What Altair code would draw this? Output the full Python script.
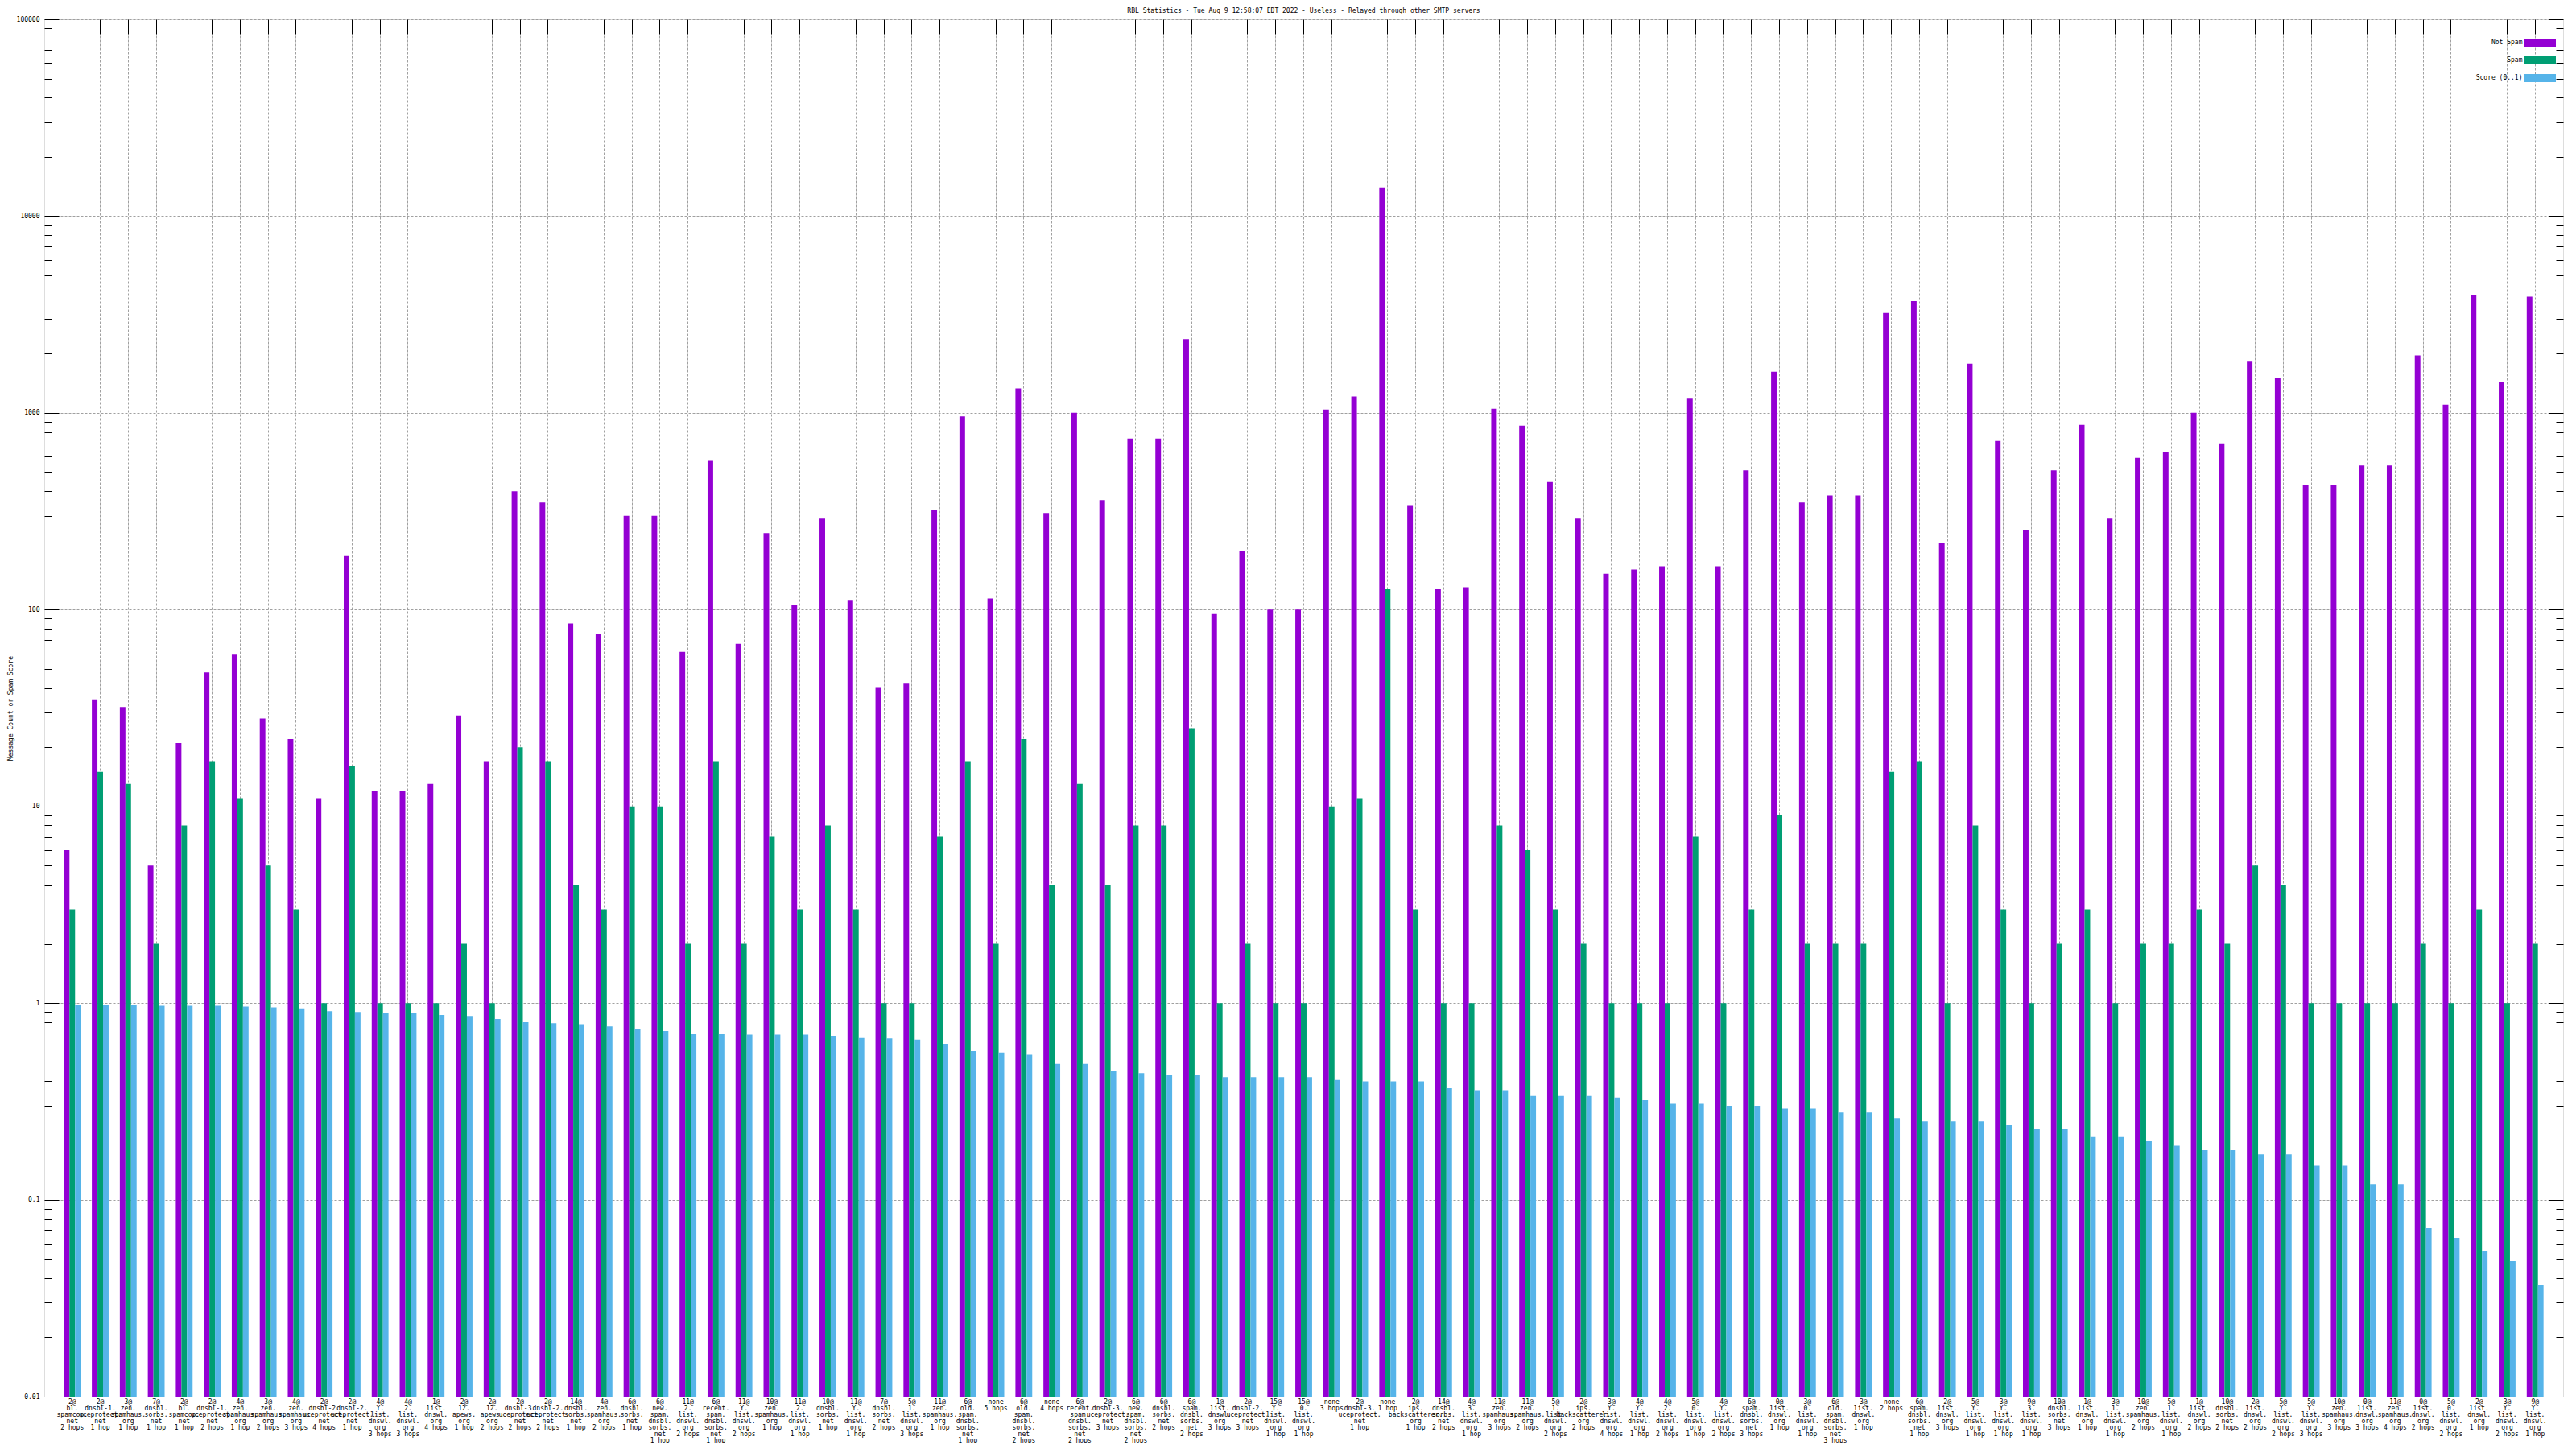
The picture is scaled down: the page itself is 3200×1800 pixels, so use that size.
import altair as alt
import pandas as pd

labels = [
    "2@|bl.|spamcop.|net|2 hops", "2@|dnsbl-1.|uceprotect.|net|1 hop", "3@|zen.|spamhaus.|org|1 hop",
    "7@|dnsbl.|sorbs.|net|1 hop", "2@|bl.|spamcop.|net|1 hop", "2@|dnsbl-1.|uceprotect.|net|2 hops",
    "4@|zen.|spamhaus.|org|1 hop", "3@|zen.|spamhaus.|org|2 hops", "4@|zen.|spamhaus.|org|3 hops",
    "2@|dnsbl-2.|uceprotect.|net|4 hops", "2@|dnsbl-2.|uceprotect.|net|1 hop", "4@|Y.|list.|dnswl.|org|3 hops",
    "4@|2.|list.|dnswl.|org|3 hops", "1@|list.|dnswl.|org|4 hops", "2@|12.|apews.|org|1 hop",
    "2@|12.|apews.|org|2 hops", "2@|dnsbl-3.|uceprotect.|net|2 hops", "2@|dnsbl-2.|uceprotect.|net|2 hops",
    "14@|dnsbl.|sorbs.|net|1 hop", "4@|zen.|spamhaus.|org|2 hops", "6@|dnsbl.|sorbs.|net|1 hop",
    "6@|new.|spam.|dnsbl.|sorbs.|net|1 hop", "11@|2.|list.|dnswl.|org|2 hops",
    "6@|recent.|spam.|dnsbl.|sorbs.|net|1 hop", "11@|Y.|list.|dnswl.|org|2 hops", "10@|zen.|spamhaus.|org|1 hop",
    "11@|2.|list.|dnswl.|org|1 hop", "10@|dnsbl.|sorbs.|net|1 hop", "11@|Y.|list.|dnswl.|org|1 hop",
    "7@|dnsbl.|sorbs.|net|2 hops", "5@|1.|list.|dnswl.|org|3 hops", "11@|zen.|spamhaus.|org|1 hop",
    "6@|old.|spam.|dnsbl.|sorbs.|net|1 hop", "none|5 hops", "6@|old.|spam.|dnsbl.|sorbs.|net|2 hops",
    "none|4 hops", "6@|recent.|spam.|dnsbl.|sorbs.|net|2 hops", "2@|dnsbl-3.|uceprotect.|net|3 hops",
    "6@|new.|spam.|dnsbl.|sorbs.|net|2 hops", "6@|dnsbl.|sorbs.|net|2 hops", "6@|spam.|dnsbl.|sorbs.|net|2 hops",
    "1@|list.|dnswl.|org|3 hops", "2@|dnsbl-2.|uceprotect.|net|3 hops", "15@|Y.|list.|dnswl.|org|1 hop",
    "15@|0.|list.|dnswl.|org|1 hop", "none|3 hops", "2@|dnsbl-3.|uceprotect.|net|1 hop",
    "none|1 hop", "2@|ips.|backscatterer.|org|1 hop", "14@|dnsbl.|sorbs.|net|2 hops",
    "4@|3.|list.|dnswl.|org|1 hop", "11@|zen.|spamhaus.|org|3 hops", "11@|zen.|spamhaus.|org|2 hops",
    "5@|1.|list.|dnswl.|org|2 hops", "2@|ips.|backscatterer.|org|2 hops", "3@|Y.|list.|dnswl.|org|4 hops",
    "4@|Y.|list.|dnswl.|org|1 hop", "4@|2.|list.|dnswl.|org|2 hops", "5@|0.|list.|dnswl.|org|1 hop",
    "4@|Y.|list.|dnswl.|org|2 hops", "6@|spam.|dnsbl.|sorbs.|net|3 hops", "0@|list.|dnswl.|org|1 hop",
    "3@|0.|list.|dnswl.|org|1 hop", "6@|old.|spam.|dnsbl.|sorbs.|net|3 hops", "3@|list.|dnswl.|org|1 hop",
    "none|2 hops", "6@|spam.|dnsbl.|sorbs.|net|1 hop", "2@|list.|dnswl.|org|3 hops",
    "5@|Y.|list.|dnswl.|org|1 hop", "3@|Y.|list.|dnswl.|org|1 hop", "9@|3.|list.|dnswl.|org|1 hop",
    "10@|dnsbl.|sorbs.|net|3 hops", "1@|list.|dnswl.|org|1 hop", "3@|1.|list.|dnswl.|org|1 hop",
    "10@|zen.|spamhaus.|org|2 hops", "5@|1.|list.|dnswl.|org|1 hop", "1@|list.|dnswl.|org|2 hops",
    "10@|dnsbl.|sorbs.|net|2 hops", "2@|list.|dnswl.|org|2 hops", "5@|Y.|list.|dnswl.|org|2 hops",
    "5@|Y.|list.|dnswl.|org|3 hops", "10@|zen.|spamhaus.|org|3 hops", "0@|list.|dnswl.|org|3 hops",
    "11@|zen.|spamhaus.|org|4 hops", "0@|list.|dnswl.|org|2 hops", "5@|0.|list.|dnswl.|org|2 hops",
    "2@|list.|dnswl.|org|1 hop", "3@|Y.|list.|dnswl.|org|2 hops", "9@|Y.|list.|dnswl.|org|1 hop",
]

not_spam = [6, 35, 32, 5, 21, 48, 59, 28, 22, 11,
            187, 12, 12, 13, 29, 17, 400, 350, 85, 75,
            300, 300, 61, 570, 67, 245, 105, 290, 112, 40,
            42, 320, 960, 114, 1330, 310, 1000, 360, 740, 740,
            2370, 95, 198, 100, 100, 1040, 1210, 14000, 340, 127,
            130, 1050, 860, 445, 290, 152, 160, 166, 1180, 166,
            510, 1620, 350, 380, 380, 3220, 3700, 218, 1780, 720,
            255, 510, 870, 290, 590, 630, 1000, 700, 1820, 1500,
            430, 430, 540, 540, 1960, 1100, 3970, 1440, 3900]

spam = [3, 15, 13, 2, 8, 17, 11, 5, 3, 1,
        16, 1, 1, 1, 2, 1, 20, 17, 4, 3,
        10, 10, 2, 17, 2, 7, 3, 8, 3, 1,
        1, 7, 17, 2, 22, 4, 13, 4, 8, 8,
        25, 1, 2, 1, 1, 10, 11, 127, 3, 1,
        1, 8, 6, 3, 2, 1, 1, 1, 7, 1,
        3, 9, 2, 2, 2, 15, 17, 1, 8, 3,
        1, 2, 3, 1, 2, 2, 3, 2, 5, 4,
        1, 1, 1, 1, 2, 1, 3, 1, 2]

score = [0.98, 0.98, 0.98, 0.97, 0.97, 0.97, 0.96, 0.95, 0.94, 0.91,
         0.90, 0.89, 0.89, 0.87, 0.86, 0.83, 0.80, 0.79, 0.78, 0.76,
         0.74, 0.72, 0.70, 0.70, 0.69, 0.69, 0.69, 0.68, 0.67, 0.66,
         0.65, 0.62, 0.57, 0.56, 0.55, 0.49, 0.49, 0.45, 0.44, 0.43,
         0.43, 0.42, 0.42, 0.42, 0.42, 0.41, 0.40, 0.40, 0.40, 0.37,
         0.36, 0.36, 0.34, 0.34, 0.34, 0.33, 0.32, 0.31, 0.31, 0.30,
         0.30, 0.29, 0.29, 0.28, 0.28, 0.26, 0.25, 0.25, 0.25, 0.24,
         0.23, 0.23, 0.21, 0.21, 0.20, 0.19, 0.18, 0.18, 0.17, 0.17,
         0.15, 0.15, 0.12, 0.12, 0.072, 0.064, 0.055, 0.049, 0.037]

series = ["Not Spam", "Spam", "Score (0..1)"]
colors = ["#9400D3", "#009E73", "#56B4E9"]

y_major = [0.01, 0.1, 1, 10, 100, 1000, 10000, 100000]
y_minor = [round(k * d, 6) for d in y_major[:-1] for k in range(2, 10)]
y_base = 0.01

title_text = "RBL Statistics - Tue Aug  9 12:58:07 EDT 2022 - Useless - Relayed through other SMTP servers"
y_title = "Message Count or Spam Score"

rows = []
for i, lab in enumerate(labels):
    for s, vals in zip(series, [not_spam, spam, score]):
        rows.append({"label": lab, "series": s, "value": vals[i]})
df = pd.DataFrame(rows)

W, H = 3129, 1711
FONT = "DejaVu Sans Mono"
GRID = "#a0a0a0"
major_test = "abs(log(datum.value)/LN10 - round(log(datum.value)/LN10)) < 0.001"
tick_size = {"condition": {"test": major_test, "value": 18}, "value": 9}

xscale = alt.Scale(paddingInner=0.4, paddingOuter=0.7)
yscale = alt.Scale(type="log", domain=[0.01, 100000], nice=False)
xoff = alt.XOffset("series:N", sort=series, scale=alt.Scale(paddingInner=0, paddingOuter=0))

bars = alt.Chart(df).mark_bar().encode(
    x=alt.X("label:N", sort=labels, scale=xscale, title=None,
            axis=alt.Axis(labelExpr="split(datum.value, '|')", labelFont=FONT, labelFontSize=8,
                          labelLineHeight=8, labelAngle=0, labelAlign="center", labelBaseline="top",
                          labelPadding=2, labelOverlap=False, labelLimit=0, labelBound=False,
                          labelColor="black", ticks=False, domain=False, grid=True, gridDash=[3, 2],
                          gridColor=GRID, gridWidth=1, bandPosition=0.5)),
    xOffset=xoff,
    y=alt.Y("value:Q", scale=yscale, stack=None, title=y_title,
            axis=alt.Axis(values=y_major, format="~g", labelFont=FONT, labelFontSize=8,
                          labelColor="black", labelPadding=6, ticks=False, domain=False,
                          grid=True, gridDash=[3, 2], gridColor=GRID, gridWidth=1,
                          titleFont=FONT, titleFontSize=8, titleFontWeight="normal",
                          titleColor="black", titleX=-42, titleY=H / 2, titleAngle=270,
                          titleAlign="center", titleBaseline="middle")),
    y2=alt.Y2(datum=y_base),
    color=alt.Color("series:N", sort=series, scale=alt.Scale(domain=series, range=colors),
                    legend=alt.Legend(orient="none", legendX=3081, legendY=12, title=None,
                                      symbolType="M-1.147,-0.294L1.147,-0.294L1.147,0.294L-1.147,0.294Z",
                                      symbolSize=1156, symbolOffset=2.5, symbolStrokeWidth=0,
                                      symbolOpacity=1, labelAlign="right",
                                      labelOffset={"expr": "-39"}, labelFont=FONT,
                                      labelFontSize=8, labelColor="black",
                                      rowPadding=0, padding=0, labelLimit=0)),
)

ticks_left = alt.Chart(df).mark_tick(opacity=0).encode(
    x=alt.X("label:N", sort=labels, scale=xscale, title=None,
            axis=alt.Axis(orient="bottom", offset=-H, labels=False, domain=False, grid=False,
                          tickSize=18, tickColor="black", bandPosition=0.5)),
    y=alt.Y("value:Q", scale=yscale, title=None,
            axis=alt.Axis(orient="right", offset=-W, values=y_major + y_minor, labels=False,
                          domain=False, grid=False, tickColor="black", tickSize=tick_size)),
)

ticks_right = alt.Chart(df).mark_tick(opacity=0).encode(
    x=alt.X("label:N", sort=labels, scale=xscale, title=None, axis=None),
    y=alt.Y("value:Q", scale=yscale, title=None,
            axis=alt.Axis(orient="left", offset=-W, values=y_major + y_minor, labels=False,
                          domain=False, grid=False, tickColor="black", tickSize=tick_size)),
)

chart = alt.layer(bars, ticks_left, ticks_right).resolve_axis(
    x="independent", y="independent"
).properties(
    width=W, height=H, autosize="none",
    padding={"left": 47, "top": 16, "right": 8, "bottom": 57},
    title=alt.TitleParams(title_text, font=FONT, fontSize=8, fontWeight="normal",
                          anchor="middle", color="black", offset=2),
).configure_view(stroke="black", strokeWidth=1).configure(background="white")

chart.save("out.html", embed_options={"renderer": "svg", "actions": False})
